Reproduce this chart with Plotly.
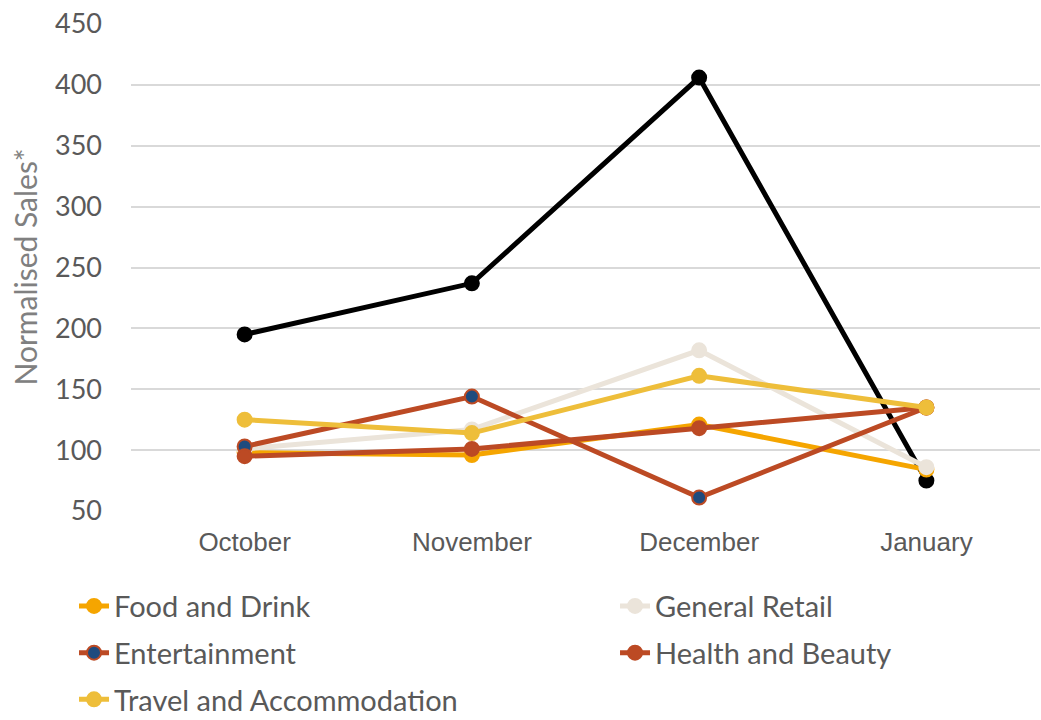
import plotly.graph_objects as go

# Monthly sales index by sector
months = ["October", "November", "December", "January"]

total_sales = [195, 237, 406, 75]
food_and_drink = [98, 96, 121, 84]
general_retail = [101, 117, 182, 86]
entertainment = [103, 144, 61, 135]
health_and_beauty = [95, 101, 118, 135]
travel_and_accommodation = [125, 114, 161, 135]

y_title = "Normalised Sales*"

series = [
    # name, values, line colour, marker fill, marker outline, legend column
    ("Total", total_sales, "#000000", "#000000", "#000000", None),
    ("Food and Drink", food_and_drink, "#F5A500", "#F5A500", "#F5A500", "legend"),
    ("General Retail", general_retail, "#EBE4DA", "#EBE4DA", "#EBE4DA", "legend2"),
    ("Entertainment", entertainment, "#BC4A24", "#1F4B7E", "#BC4A24", "legend"),
    ("Health and Beauty", health_and_beauty, "#BC4A24", "#BC4A24", "#BC4A24", "legend2"),
    ("Travel and Accommodation", travel_and_accommodation, "#EEBE3A", "#EEBE3A", "#EEBE3A", "legend"),
]

fig = go.Figure()
for name, values, line_col, fill_col, edge_col, legend_col in series:
    fig.add_trace(go.Scatter(
        x=months,
        y=values,
        name=name,
        mode="lines+markers",
        line=dict(color=line_col, width=5),
        marker=dict(size=14, color=fill_col, line=dict(color=edge_col, width=2)),
        showlegend=legend_col is not None,
        legend=legend_col or "legend",
        legendgroup=name,
    ))

legend_font = dict(family="Lato, Open Sans, sans-serif", size=29, color="#595959")
legend_common = dict(
    orientation="v",
    xref="container",
    yref="container",
    xanchor="left",
    yanchor="top",
    y=0.1936,
    font=legend_font,
    traceorder="grouped",
    tracegroupgap=6,
    bgcolor="rgba(0,0,0,0)",
)

fig.update_layout(
    width=1041,
    height=720,
    margin=dict(l=131, r=1, t=24, b=209, autoexpand=False),
    paper_bgcolor="white",
    plot_bgcolor="white",
    font=dict(family="Lato, Open Sans, sans-serif", color="#595959"),
    showlegend=True,
    legend=dict(x=0.0711, **legend_common),
    legend2=dict(x=0.5908, **legend_common),
)

# Vertical axis title, set beside the tick labels
fig.add_annotation(
    text=y_title,
    xref="paper",
    yref="paper",
    x=-0.1177,
    y=0.5,
    xanchor="center",
    yanchor="middle",
    textangle=-90,
    showarrow=False,
    font=dict(family="Lato, Open Sans, sans-serif", size=30, color="#808080"),
)

fig.update_xaxes(
    type="category",
    range=[-0.5, 3.5],
    showgrid=False,
    showline=False,
    zeroline=False,
    ticks="",
    tickangle=0,
    ticklabelstandoff=13,
    tickfont=dict(family="Liberation Sans, Arial, sans-serif", size=26, color="#595959"),
)

fig.update_yaxes(
    range=[50, 450],
    dtick=50,
    tick0=50,
    showgrid=True,
    gridcolor="#D9D9D9",
    gridwidth=2,
    zeroline=False,
    showline=False,
    ticks="",
    ticklabelstandoff=28,
    tickfont=dict(family="Lato, Open Sans, sans-serif", size=27, color="#595959"),
)

fig.write_html("out.html")
